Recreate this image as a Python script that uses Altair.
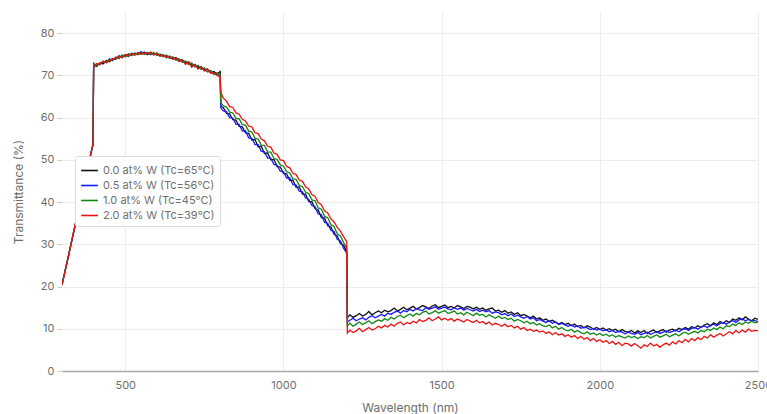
import altair as alt
import pandas as pd

# Wavelength sampling (nm) for each spectral segment
WL_UV = [300, 310, 320, 330, 340, 350, 360, 370, 380, 390, 398]
WL_VIS = list(range(400, 801, 10))
WL_NIR1 = [802] + list(range(810, 1201, 10))
WL_NIR2 = [1202] + list(range(1210, 2501, 10))

SERIES = [
    "0.0 at% W (Tc=65°C)",
    "0.5 at% W (Tc=56°C)",
    "1.0 at% W (Tc=45°C)",
    "2.0 at% W (Tc=39°C)",
]
COLORS = ["#111111", "#1a1aff", "#118811", "#ee1111"]

# Transmittance (%) for 0.0 at% W
W00_UV = [20.4, 23.8, 27.1, 30.5, 34.0, 37.3, 40.9, 44.2, 47.6, 51.0, 53.6]
W00_VIS = [72.6, 72.1, 73.0, 72.7, 73.5, 73.2, 74.0, 73.8, 74.6, 74.2,
           74.9, 74.5, 75.2, 74.8, 75.3, 75.0, 75.5, 74.9, 75.4, 74.9,
           75.3, 74.6, 74.9, 74.2, 74.6, 73.9, 74.2, 73.4, 73.7, 72.9,
           73.2, 72.4, 72.6, 71.8, 72.0, 71.3, 71.5, 70.6, 70.9, 70.3, 70.9]
W00_NIR1 = [62.6, 62.4, 61.0, 60.9, 59.5, 59.4, 57.9, 57.8, 56.4, 56.3,
            54.7, 54.8, 53.1, 53.2, 51.5, 51.6, 50.0, 50.1, 48.4, 48.3,
            46.8, 46.7, 45.1, 45.2, 43.5, 43.6, 41.9, 41.9, 40.1, 40.1,
            38.4, 38.1, 36.3, 36.2, 34.4, 34.1, 32.4, 32.0, 30.2, 29.8, 28.2]
W00_NIR2 = [12.6,
            13.3, 12.7, 13.1, 13.6, 13.0, 13.4, 14.1, 13.3, 13.8, 14.2,
            13.8, 14.4, 14.0, 14.3, 14.9, 14.2, 14.6, 15.1, 14.5, 14.9,
            15.3, 14.7, 15.0, 15.5, 15.2, 14.8, 15.4, 15.7, 15.0, 15.3,
            15.6, 15.0, 15.3, 14.9, 15.5, 15.2, 14.8, 15.3, 15.1, 14.7,
            15.1, 14.6, 14.9, 14.4, 14.7, 14.9, 14.2, 14.4, 13.9, 14.3,
            13.7, 14.0, 13.4, 13.8, 13.1, 13.4, 13.0, 12.6, 13.0, 12.3,
            12.6, 12.0, 12.3, 11.7, 12.0, 11.6, 11.1, 11.5, 11.0, 11.3,
            10.7, 11.1, 10.5, 10.8, 10.2, 10.7, 10.4, 9.9, 10.3, 9.8,
            10.2, 9.7, 10.0, 9.6, 9.9, 9.3, 9.8, 9.4, 9.2, 9.6,
            9.0, 9.5, 9.1, 9.6, 8.9, 9.4, 9.7, 9.1, 9.5, 9.8,
            9.2, 9.7, 9.9, 9.5, 10.1, 9.8, 10.3, 9.9, 10.5, 10.2,
            10.7, 10.3, 10.9, 11.2, 10.7, 11.4, 11.0, 11.7, 11.3, 11.9,
            11.5, 12.3, 12.0, 12.6, 12.1, 12.8, 12.3, 11.9, 12.5, 12.2]

# Transmittance (%) for 0.5 at% W
W05_UV = [20.5, 23.7, 27.2, 30.6, 33.9, 37.4, 40.8, 44.3, 47.7, 51.1, 53.7]
W05_VIS = [71.8, 72.7, 72.5, 73.3, 73.0, 73.9, 73.5, 74.3, 74.0, 74.8,
           74.4, 75.1, 74.7, 75.3, 75.0, 75.6, 75.0, 75.4, 74.9, 75.3,
           74.8, 75.0, 74.5, 74.7, 74.1, 74.3, 73.7, 73.8, 73.2, 73.3,
           72.7, 72.8, 72.1, 72.2, 71.5, 71.6, 70.9, 71.0, 70.3, 70.4, 69.8]
W05_NIR1 = [62.3, 61.6, 61.4, 60.0, 59.9, 58.4, 58.4, 56.8, 56.9, 55.2,
            55.1, 53.6, 53.6, 52.0, 51.9, 50.4, 50.4, 48.9, 48.7, 47.3,
            47.2, 45.7, 45.7, 44.1, 44.0, 42.6, 42.4, 41.0, 40.6, 39.2,
            38.9, 37.2, 37.0, 35.2, 35.0, 33.3, 33.0, 31.2, 30.8, 29.1, 27.9]
W05_NIR2 = [11.6,
            12.0, 12.5, 11.9, 12.3, 12.6, 12.1, 12.7, 13.1, 12.6, 13.0,
            13.4, 13.0, 13.7, 13.4, 13.9, 14.2, 13.7, 14.3, 14.0, 14.6,
            14.2, 14.8, 14.5, 14.3, 15.0, 14.6, 14.9, 15.2, 14.6, 14.9,
            15.1, 14.7, 14.5, 15.0, 14.6, 14.9, 14.4, 14.8, 14.5, 14.2,
            14.6, 14.1, 14.4, 14.0, 14.3, 13.7, 14.0, 13.8, 13.3, 13.6,
            13.1, 13.5, 12.9, 13.2, 12.8, 12.5, 12.9, 12.3, 12.6, 11.9,
            12.2, 11.8, 11.5, 11.9, 11.3, 11.6, 11.0, 11.3, 10.9, 10.6,
            10.9, 10.4, 10.7, 10.1, 10.4, 10.2, 9.8, 10.1, 9.7, 9.9,
            9.5, 9.8, 9.3, 9.6, 9.1, 9.4, 9.2, 8.8, 9.2, 8.9,
            8.7, 9.1, 8.6, 8.9, 9.2, 8.7, 9.0, 9.3, 8.9, 9.2,
            9.5, 9.1, 9.4, 9.7, 9.3, 9.8, 10.0, 9.6, 10.1, 10.3,
            9.9, 10.4, 10.7, 10.3, 10.8, 11.1, 10.7, 11.2, 11.5, 11.1,
            11.6, 11.9, 11.5, 12.1, 12.4, 11.9, 12.2, 11.8, 12.0, 11.7]

# Transmittance (%) for 1.0 at% W
W10_UV = [20.3, 23.8, 27.0, 30.6, 34.1, 37.3, 40.8, 44.2, 47.6, 51.0, 53.8]
W10_VIS = [72.9, 72.3, 72.9, 73.2, 73.1, 73.8, 73.6, 74.3, 74.1, 74.7,
           74.4, 75.0, 74.7, 75.2, 74.9, 75.4, 75.0, 75.3, 75.0, 75.4,
           74.7, 75.0, 74.4, 74.8, 74.0, 74.4, 73.6, 73.9, 73.1, 73.4,
           72.6, 72.9, 72.0, 72.4, 71.4, 71.8, 70.8, 71.2, 70.2, 70.6, 69.9]
W10_NIR1 = [63.5, 62.8, 62.5, 61.3, 61.1, 59.8, 59.7, 58.3, 58.2, 56.8,
            56.6, 55.1, 54.9, 53.5, 53.4, 51.9, 51.8, 50.3, 50.1, 48.8,
            48.5, 47.2, 46.9, 45.5, 45.4, 43.9, 43.7, 42.3, 42.0, 40.5,
            40.3, 38.6, 38.3, 36.6, 36.3, 34.6, 34.2, 32.5, 32.0, 30.4, 29.2]
W10_NIR2 = [10.7,
            11.3, 10.6, 11.1, 11.6, 11.0, 11.4, 11.9, 11.2, 11.7, 12.1,
            11.8, 12.4, 12.0, 12.7, 12.3, 12.9, 13.2, 12.6, 13.1, 13.5,
            13.0, 13.6, 13.3, 13.9, 14.2, 13.5, 13.8, 14.3, 13.7, 14.0,
            14.3, 13.6, 13.9, 14.2, 13.5, 13.8, 13.3, 13.9, 13.5, 13.1,
            13.7, 13.2, 13.4, 12.8, 13.3, 12.9, 12.5, 13.0, 12.4, 12.7,
            12.2, 12.5, 11.8, 12.2, 11.9, 11.4, 11.8, 11.2, 11.5, 10.9,
            11.2, 10.7, 10.5, 10.9, 10.2, 10.6, 9.9, 10.3, 9.7, 9.5,
            9.9, 9.2, 9.6, 9.1, 8.8, 9.3, 8.7, 9.0, 8.5, 8.9,
            8.4, 8.7, 8.2, 8.6, 8.0, 8.4, 8.1, 7.8, 8.3, 7.9,
            8.2, 7.7, 8.1, 7.9, 8.4, 7.8, 8.2, 8.6, 8.0, 8.3,
            8.7, 8.1, 8.5, 8.8, 8.3, 8.9, 9.2, 8.7, 9.1, 9.4,
            9.0, 9.6, 9.3, 9.9, 9.6, 10.2, 9.8, 10.4, 10.0, 10.7,
            10.5, 11.1, 10.8, 11.4, 11.0, 11.6, 11.3, 11.8, 11.4, 11.6]

# Transmittance (%) for 2.0 at% W
W20_UV = [20.4, 23.7, 27.1, 30.5, 34.0, 37.4, 40.8, 44.2, 47.7, 51.1, 53.8]
W20_VIS = [72.0, 72.8, 72.6, 73.4, 73.0, 73.5, 73.9, 74.0, 74.5, 74.2,
           74.9, 74.6, 75.1, 74.8, 75.4, 75.0, 75.3, 75.1, 75.5, 74.8,
           75.2, 74.5, 74.8, 74.3, 74.5, 73.8, 74.1, 73.3, 73.7, 72.6,
           73.1, 71.9, 72.6, 71.5, 72.1, 71.0, 71.4, 70.5, 70.7, 69.9, 69.7]
W20_NIR1 = [66.0, 64.6, 63.9, 62.6, 62.4, 61.1, 60.8, 59.6, 59.2, 58.0,
            57.8, 56.4, 56.2, 54.9, 54.5, 53.2, 53.0, 51.6, 51.3, 50.0,
            49.8, 48.4, 48.1, 46.8, 46.5, 45.2, 44.9, 43.6, 43.1, 41.8,
            41.3, 39.9, 39.4, 37.9, 37.4, 36.0, 35.3, 34.0, 33.1, 31.8, 30.6]
W20_NIR2 = [9.0,
            9.7, 9.1, 9.5, 10.1, 9.3, 9.8, 10.3, 9.7, 10.0, 10.6,
            10.2, 10.8, 10.4, 11.1, 10.6, 11.3, 11.6, 10.9, 11.5, 11.2,
            11.8, 11.4, 12.2, 11.7, 12.0, 12.6, 11.9, 12.3, 12.8, 12.1,
            12.5, 12.0, 12.4, 11.8, 12.3, 12.0, 11.6, 12.2, 11.8, 11.5,
            12.0, 11.4, 11.7, 11.1, 11.6, 10.9, 11.3, 11.0, 10.6, 11.1,
            10.5, 10.8, 10.2, 10.6, 9.9, 10.3, 9.6, 9.9, 9.4, 9.7,
            9.2, 9.5, 8.9, 9.3, 8.6, 9.1, 8.5, 8.8, 8.2, 8.6,
            8.0, 8.4, 7.7, 8.2, 7.5, 7.9, 7.2, 7.7, 7.0, 7.4,
            6.8, 7.2, 6.5, 7.0, 6.3, 6.8, 6.0, 6.6, 6.4, 5.9,
            6.5, 6.0, 5.4, 6.2, 5.8, 6.6, 5.9, 6.3, 5.6, 6.2,
            6.6, 6.1, 6.9, 6.4, 7.2, 6.7, 7.5, 6.9, 7.7, 7.2,
            7.9, 7.4, 8.2, 7.8, 8.6, 8.0, 8.5, 8.9, 8.3, 8.8,
            9.3, 8.8, 9.6, 9.0, 9.7, 9.2, 9.9, 9.4, 9.6, 9.5]

WAVELENGTH = WL_UV + WL_VIS + WL_NIR1 + WL_NIR2
VALUES = [
    W00_UV + W00_VIS + W00_NIR1 + W00_NIR2,
    W05_UV + W05_VIS + W05_NIR1 + W05_NIR2,
    W10_UV + W10_VIS + W10_NIR1 + W10_NIR2,
    W20_UV + W20_VIS + W20_NIR1 + W20_NIR2,
]

rows = []
for name, vals in zip(SERIES, VALUES):
    for wl, t in zip(WAVELENGTH, vals):
        rows.append({"wavelength": wl, "transmittance": t, "sample": name})
df = pd.DataFrame(rows)

FONT = "Inter"
GRAY = "#6e6e6e"

chart = (
    alt.Chart(df)
    .mark_line(strokeWidth=1.3, clip=True)
    .encode(
        x=alt.X(
            "wavelength:Q",
            scale=alt.Scale(domain=[300, 2500], nice=False, zero=False),
            axis=alt.Axis(
                title="Wavelength (nm)",
                values=[500, 1000, 1500, 2000, 2500],
                format="d",
                labelFlush=False,
                ticks=False,
                labelPadding=8,
                titlePadding=12,
                domainColor="#a8a8a8",
                domainWidth=1.5,
            ),
        ),
        y=alt.Y(
            "transmittance:Q",
            scale=alt.Scale(domain=[0, 85], nice=False),
            axis=alt.Axis(
                title="Transmittance (%)",
                values=[0, 10, 20, 30, 40, 50, 60, 70, 80],
                domain=False,
                tickSize=5,
                tickColor="#cccccc",
                labelPadding=3,
                titlePadding=14,
            ),
        ),
        color=alt.Color(
            "sample:N",
            scale=alt.Scale(domain=SERIES, range=COLORS),
            legend=alt.Legend(
                title=None,
                orient="none",
                legendX=13,
                legendY=144,
                symbolType="stroke",
                symbolSize=280,
                symbolStrokeWidth=1.6,
                labelFontSize=11,
                labelColor=GRAY,
                labelFont=FONT,
                rowPadding=0,
                padding=5,
                strokeColor="#dddddd",
                fillColor="white",
                cornerRadius=2,
            ),
        ),
        order=alt.Order("wavelength:Q"),
    )
    .properties(width=696, height=359)
    .configure(
        autosize=alt.AutoSizeParams(type="none"),
        padding={"left": 62, "top": 12, "right": 9, "bottom": 43},
        background="white",
    )
    .configure_view(stroke=None)
    .configure_axis(
        labelFont=FONT,
        titleFont=FONT,
        labelFontSize=11,
        titleFontSize=12,
        labelColor=GRAY,
        titleColor=GRAY,
        titleFontWeight="normal",
        gridColor="#ececec",
        gridWidth=1,
    )
)

chart.save("out.html", embed_options={"renderer": "svg", "actions": False})
